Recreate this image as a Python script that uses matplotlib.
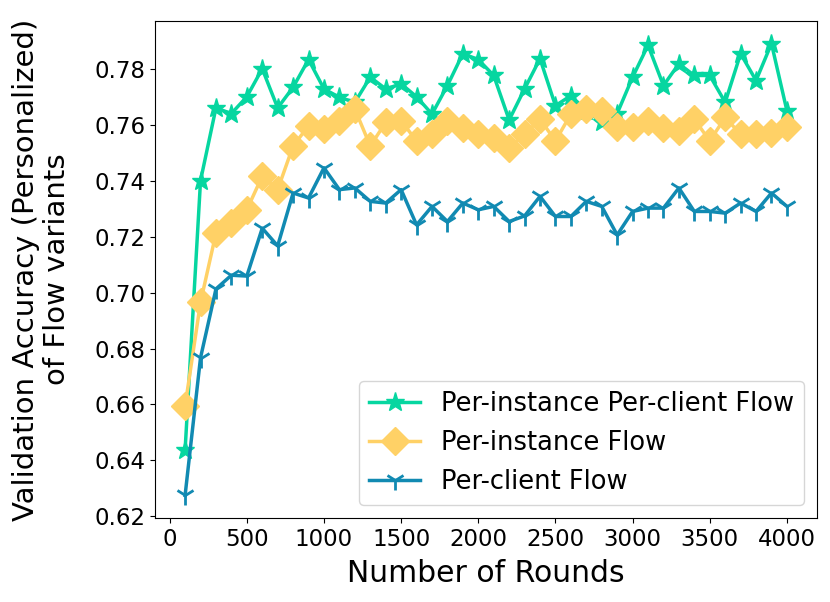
import matplotlib
matplotlib.use("Agg")
import matplotlib.pyplot as plt
import numpy as np

rounds = list(range(100, 4001, 100))

per_instance_per_client = [
    0.6437, 0.7400, 0.7660, 0.7640, 0.7700, 0.7800, 0.7660, 0.7734, 0.7833, 0.7728,
    0.7698, 0.7680, 0.7770, 0.7728, 0.7746, 0.7700, 0.7638, 0.7740, 0.7854, 0.7833,
    0.7776, 0.7617, 0.7728, 0.7836, 0.7668, 0.7704, 0.7650, 0.7610, 0.7640, 0.7770,
    0.7884, 0.7740, 0.7818, 0.7776, 0.7776, 0.7680, 0.7854, 0.7758, 0.7890, 0.7650,
]
per_instance = [
    0.6595, 0.6965, 0.7212, 0.7248, 0.7296, 0.7416, 0.7368, 0.7524, 0.7596, 0.7584,
    0.7614, 0.7656, 0.7524, 0.7608, 0.7614, 0.7542, 0.7566, 0.7614, 0.7590, 0.7566,
    0.7554, 0.7518, 0.7566, 0.7620, 0.7542, 0.7638, 0.7656, 0.7650, 0.7592, 0.7592,
    0.7614, 0.7590, 0.7578, 0.7620, 0.7542, 0.7626, 0.7566, 0.7566, 0.7572, 0.7592,
]
per_client = [
    0.6275, 0.6767, 0.7013, 0.7062, 0.7059, 0.7230, 0.7167, 0.7356, 0.7338, 0.7446,
    0.7368, 0.7374, 0.7326, 0.7320, 0.7368, 0.7242, 0.7308, 0.7254, 0.7320, 0.7296,
    0.7308, 0.7254, 0.7274, 0.7344, 0.7272, 0.7272, 0.7326, 0.7308, 0.7206, 0.7290,
    0.7302, 0.7302, 0.7374, 0.7290, 0.7290, 0.7284, 0.7320, 0.7290, 0.7356, 0.7308,
]

labels = ["Per-instance Per-client Flow", "Per-instance Flow", "Per-client Flow"]
xticks = [0, 500, 1000, 1500, 2000, 2500, 3000, 3500, 4000]
yticks = [0.62, 0.64, 0.66, 0.68, 0.70, 0.72, 0.74, 0.76, 0.78]

plt.rcParams['font.family'] = ['DejaVu Sans']

fig = plt.figure(figsize=(8.30, 6.02), dpi=100)
ax = fig.add_axes([155/830, 1 - 518/602, (817 - 155)/830, (518 - 21)/602])

ax.plot(rounds, per_instance_per_client, color="#06d6a0", marker="*", markersize=14,
        linewidth=2.5, label=labels[0])
ax.plot(rounds, per_instance, color="#ffd166", marker="D", markersize=14,
        linewidth=2.5, label=labels[1])
ax.plot(rounds, per_client, color="#118ab2", marker="1", markersize=14, markeredgewidth=2,
        linewidth=2.5, label=labels[2])

ax.set_xticks(xticks)
ax.set_yticks(yticks)
ax.set_yticklabels([f"{v:.2f}" for v in yticks])
ax.tick_params(labelsize=16.5)
ax.set_xlabel("Number of Rounds", fontsize=21.5, labelpad=6)
ax.set_ylabel("Validation Accuracy (Personalized)\nof Flow variants", fontsize=21,
              linespacing=1.1, labelpad=17)
ax.legend(loc="lower right", fontsize=18.5)

fig.savefig("out.png", dpi=100)
